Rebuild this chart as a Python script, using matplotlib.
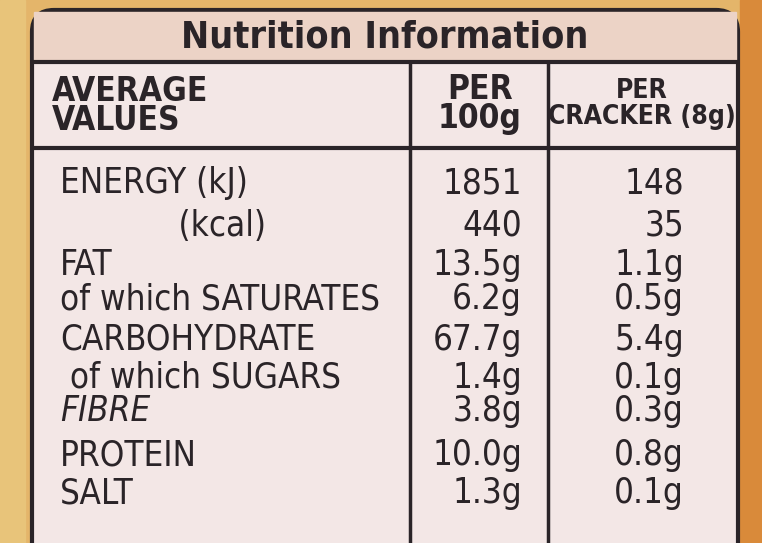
"""Nutrition information panel redrawn as a matplotlib table."""
import matplotlib.pyplot as plt
from matplotlib.patches import FancyBboxPatch, Rectangle

TITLE = "Nutrition Information"
HEADERS = ["AVERAGE\nVALUES", "PER\n100g", "PER\nCRACKER (8g)"]
ROW_LABELS = ["ENERGY (kJ)", "            (kcal)", "FAT", "of which SATURATES",
              "CARBOHYDRATE", " of which SUGARS", "FIBRE", "PROTEIN", "SALT"]
PER_100G = ["1851", "440", "13.5g", "6.2g", "67.7g", "1.4g", "3.8g", "10.0g", "1.3g"]
PER_CRACKER = ["148", "35", "1.1g", "0.5g", "5.4g", "0.1g", "0.3g", "0.8g", "0.1g"]
ROW_Y = [183, 226, 265, 299, 340, 378, 411, 455, 493]

INK = "#2a2428"
FONT = dict(family="DejaVu Sans", fontstretch="condensed", color=INK)

fig = plt.figure(figsize=(7.62, 5.43), dpi=100)
fig.patch.set_facecolor("#e0a85a")
ax = fig.add_axes([0, 0, 1, 1])
ax.set_xlim(0, 762)
ax.set_ylim(543, 0)
ax.axis("off")

# warm photo background
ax.add_patch(Rectangle((0, 0), 762, 543, color="#e4b56a", zorder=0))
ax.add_patch(Rectangle((0, 0), 25, 543, color="#e8c47a", zorder=0))
ax.add_patch(Rectangle((740, 0), 22, 543, color="#d98a3a", zorder=0))

# label card
ax.add_patch(FancyBboxPatch((32, 10), 706, 560, boxstyle="round,pad=0,rounding_size=22",
                            fc="#f3e7e6", ec=INK, lw=3, zorder=1))
ax.add_patch(Rectangle((34, 12), 702, 50, color="#ecd3c6", zorder=1))
ax.plot([34, 736], [62, 62], color=INK, lw=3, zorder=2)
ax.plot([34, 736], [148, 148], color=INK, lw=3, zorder=2)
ax.plot([410, 410], [62, 543], color=INK, lw=2.5, zorder=2)
ax.plot([548, 548], [62, 543], color=INK, lw=2.5, zorder=2)

ax.text(385, 38, TITLE, ha="center", va="center", fontsize=27, fontweight="bold", **FONT)
ax.text(52, 106, HEADERS[0], ha="left", va="center", fontsize=24, fontweight="bold",
        linespacing=0.85, **FONT)
ax.text(480, 104, HEADERS[1], ha="center", va="center", fontsize=24, fontweight="bold",
        linespacing=0.85, **FONT)
ax.text(642, 104, HEADERS[2], ha="center", va="center", fontsize=19, fontweight="bold",
        linespacing=1.0, **FONT)

for y, lab, a, b in zip(ROW_Y, ROW_LABELS, PER_100G, PER_CRACKER):
    style = "italic" if lab == "FIBRE" else "normal"
    ax.text(60, y, lab, ha="left", va="center", fontsize=25, style=style,
            fontweight="medium", **FONT)
    ax.text(522, y, a, ha="right", va="center", fontsize=25, **FONT)
    ax.text(684, y, b, ha="right", va="center", fontsize=25, **FONT)

fig.savefig("out.png", dpi=100)
